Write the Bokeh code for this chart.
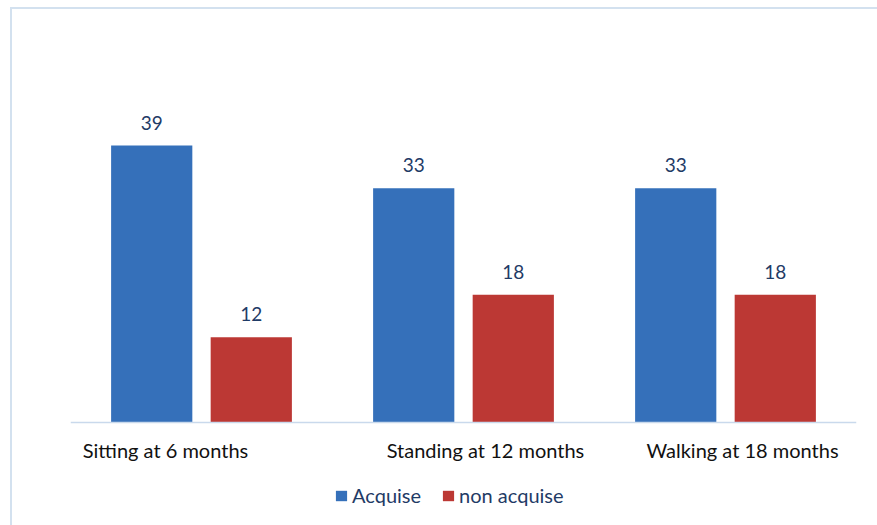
from bokeh.plotting import figure
from bokeh.models import (ColumnDataSource, FactorRange, Range1d, LabelSet, Legend,
                          LegendItem, Span)
from bokeh.core.properties import value
from bokeh.transform import dodge
from bokeh.embed import file_html
from bokeh.resources import INLINE

categories = ["Sitting at 6 months", "Standing at 12 months", "Walking at 18 months"]
acquise = [39, 33, 33]
non_acquise = [12, 18, 18]
series_names = ["Acquise", "non acquise"]

# label horizontal nudges (style only)
cat_label_offsets = [-36, 22, 17]

src = ColumnDataSource(dict(
    cat=categories,
    acq=acquise,
    non=non_acquise,
    acq_txt=[str(v) for v in acquise],
    non_txt=[str(v) for v in non_acquise],
    zero=[0] * len(categories),
    xoff=cat_label_offsets,
))

FONT = value("Lato")
NAVY = "#1F3B66"

PX_PER_UNIT = 7.1
p = figure(x_range=FactorRange(*categories, range_padding=0),
           y_range=Range1d(-103 / PX_PER_UNIT, 422 / PX_PER_UNIT),
           width=877, height=525, output_backend="svg", toolbar_location=None,
           min_border_left=70, min_border_right=21, min_border_top=0, min_border_bottom=0)

r1 = p.vbar(x=dodge("cat", -0.19, range=p.x_range), top="acq", bottom=0, width=0.31, source=src,
            fill_color="#3570BA", line_color=None)
r2 = p.vbar(x=dodge("cat", 0.19, range=p.x_range), top="non", bottom=0, width=0.31, source=src,
            fill_color="#BC3834", line_color=None)

p.add_layout(Span(location=0, dimension="width", line_color="#C9D9EC", line_width=1.5))

p.add_layout(LabelSet(x=dodge("cat", -0.19, range=p.x_range), y="acq", text="acq_txt", source=src,
                      text_align="center", text_baseline="alphabetic", y_offset=16,
                      text_font=FONT, text_font_size="19px", text_color=NAVY))
p.add_layout(LabelSet(x=dodge("cat", 0.19, range=p.x_range), y="non", text="non_txt", source=src,
                      text_align="center", text_baseline="alphabetic", y_offset=16,
                      text_font=FONT, text_font_size="19px", text_color=NAVY))
p.add_layout(LabelSet(x="cat", y="zero", text="cat", source=src, x_offset="xoff",
                      text_align="center", text_baseline="alphabetic", y_offset=-35,
                      text_font=FONT, text_font_size="20px", text_color="#111111"))

legend = Legend(items=[LegendItem(label=series_names[0], renderers=[r1]),
                       LegendItem(label=series_names[1], renderers=[r2])],
                orientation="horizontal", location=(264, 18),
                label_text_font="Lato", label_text_font_size="20px", label_text_color=NAVY,
                glyph_width=14, glyph_height=13, label_standoff=4, spacing=20,
                padding=0, margin=0, border_line_color=None, background_fill_alpha=0)
p.add_layout(legend, "center")

p.xaxis.visible = False
p.yaxis.visible = False
p.xgrid.grid_line_color = None
p.ygrid.grid_line_color = None
p.outline_line_color = None
p.background_fill_color = None
p.border_fill_color = None
p.styles = {
    "background": ("linear-gradient(#D3E1EF,#D3E1EF) 10px 7px / 867px 2px no-repeat, "
                   "linear-gradient(#D3E1EF,#D3E1EF) 10px 7px / 2px 518px no-repeat, #ffffff"),
}

open("out.html", "w").write(file_html(p, INLINE))
